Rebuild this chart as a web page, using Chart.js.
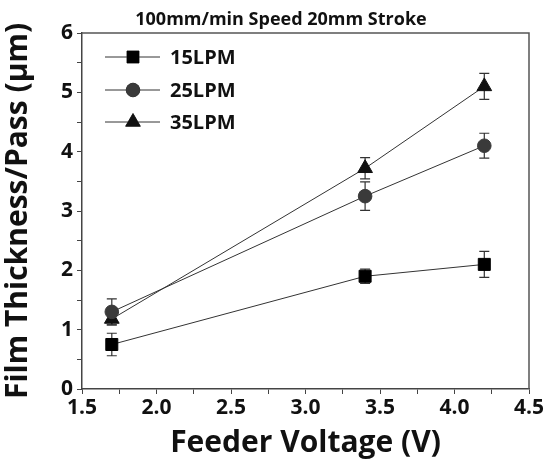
<!DOCTYPE html>
<html>
<head>
<meta charset="utf-8">
<script src="https://cdn.jsdelivr.net/npm/chart.js@4"></script>
<style>
  html, body { margin: 0; padding: 0; background: #fff; }
  #wrap { width: 553px; height: 465px; position: relative; }
</style>
</head>
<body>
<div id="wrap"><canvas id="chart" width="553" height="465"></canvas></div>
<script>
// data
const voltages = [1.7, 3.4, 4.2];
const lpm15 = [0.75, 1.9, 2.1];
const lpm15Err = [0.19, 0.12, 0.22];
const lpm25 = [1.3, 3.25, 4.1];
const lpm25Err = [0.22, 0.24, 0.21];
const lpm35 = [1.18, 3.72, 5.1];
const lpm35Err = [0.1, 0.18, 0.22];
const seriesNames = ['15LPM', '25LPM', '35LPM'];

const FONT = '"Open Sans", "Noto Sans", sans-serif';

function points(ys) {
  return voltages.map((x, i) => ({ x: x, y: ys[i] }));
}

// error bars, drawn under the markers
const errorBars = {
  id: 'errorBars',
  beforeDatasetsDraw(chart) {
    const ctx = chart.ctx;
    const xs = chart.scales.x, ys = chart.scales.y;
    ctx.save();
    ctx.strokeStyle = '#333';
    ctx.lineWidth = 1.2;
    chart.data.datasets.forEach(ds => {
      ds.data.forEach((p, i) => {
        const e = ds.errors[i];
        const px = xs.getPixelForValue(p.x);
        const top = ys.getPixelForValue(p.y + e);
        const bot = ys.getPixelForValue(p.y - e);
        ctx.beginPath();
        ctx.moveTo(px, top); ctx.lineTo(px, bot);
        ctx.moveTo(px - 5, top); ctx.lineTo(px + 5, top);
        ctx.moveTo(px - 5, bot); ctx.lineTo(px + 5, bot);
        ctx.stroke();
      });
    });
    ctx.restore();
  }
};

// box, title and the legend inside the plot
const decor = {
  id: 'decor',
  afterDraw(chart) {
    const ctx = chart.ctx;
    const a = chart.chartArea;
    ctx.save();
    ctx.strokeStyle = '#555';
    ctx.lineWidth = 1.5;
    ctx.beginPath();
    ctx.moveTo(a.left, a.top); ctx.lineTo(a.right, a.top); ctx.lineTo(a.right, a.bottom);
    ctx.stroke();

    ctx.fillStyle = '#111';
    ctx.font = 'bold 18px ' + FONT;
    ctx.textAlign = 'center';
    ctx.textBaseline = 'middle';
    ctx.fillText('100mm/min Speed 20mm Stroke', 281, 20);

    const rows = [57, 90, 122];
    chart.data.datasets.forEach((ds, i) => {
      const y = rows[i];
      ctx.strokeStyle = '#333';
      ctx.lineWidth = 1;
      ctx.beginPath();
      ctx.moveTo(105, y); ctx.lineTo(160, y);
      ctx.stroke();
      Chart.helpers.drawPoint(ctx, {
        pointStyle: ds.pointStyle, radius: ds.pointRadius, borderWidth: 1
      }, 133, y);
      ctx.fillStyle = ds.pointBackgroundColor;
      ctx.fill();
      ctx.fillStyle = '#111';
      ctx.font = 'bold 20px ' + FONT;
      ctx.textAlign = 'left';
      ctx.fillText(ds.label, 170, y + 1);
    });
    ctx.restore();
  }
};

function makeSet(label, ys, errs, style, radius, color) {
  return {
    label: label,
    data: points(ys),
    errors: errs,
    showLine: true,
    borderColor: '#333',
    borderWidth: 1,
    pointStyle: style,
    pointRadius: radius,
    pointHoverRadius: radius,
    pointBackgroundColor: color,
    pointBorderColor: color,
    pointBorderWidth: 1
  };
}

new Chart(document.getElementById('chart'), {
  type: 'scatter',
  data: {
    datasets: [
      makeSet(seriesNames[0], lpm15, lpm15Err, 'rect', 8.5, '#000'),
      makeSet(seriesNames[1], lpm25, lpm25Err, 'circle', 6.8, '#3a3a3a'),
      makeSet(seriesNames[2], lpm35, lpm35Err, 'triangle', 8.5, '#111')
    ]
  },
  options: {
    responsive: false,
    animation: false,
    layout: { padding: { top: 33, right: 24, left: 0, bottom: 0 } },
    plugins: { legend: { display: false }, tooltip: { enabled: false } },
    scales: {
      x: {
        type: 'linear',
        min: 1.5, max: 4.5,
        afterFit(s) { s.height = 76; },
        border: { display: true, color: '#444', width: 1.5 },
        grid: { drawOnChartArea: false, drawTicks: true, tickLength: 5, color: '#444', lineWidth: 1 },
        ticks: {
          stepSize: 0.25,
          padding: 1,
          maxRotation: 0,
          autoSkip: false,
          color: '#111',
          font: { family: FONT, size: 21, weight: 'bold' },
          callback: v => (Math.abs(v * 2 - Math.round(v * 2)) < 1e-6 ? v.toFixed(1) : '')
        },
        title: {
          display: true,
          text: 'Feeder Voltage (V)',
          color: '#111',
          padding: { top: 3 },
          font: { family: FONT, size: 30, weight: 'bold' }
        }
      },
      y: {
        type: 'linear',
        min: 0, max: 6,
        afterFit(s) { s.width = 82; },
        border: { display: true, color: '#444', width: 1.5 },
        grid: { drawOnChartArea: false, drawTicks: true, tickLength: 5, color: '#444', lineWidth: 1 },
        ticks: {
          stepSize: 0.5,
          padding: 4,
          autoSkip: false,
          color: '#111',
          font: { family: FONT, size: 21, weight: 'bold' },
          callback: v => (Number.isInteger(v) ? String(v) : '')
        },
        title: {
          display: true,
          text: 'Film Thickness/Pass (\u03bcm)',
          color: '#111',
          padding: { top: 0, bottom: 0 },
          font: { family: FONT, size: 30, weight: 'bold' }
        }
      }
    }
  },
  plugins: [errorBars, decor]
});
</script>
</body>
</html>
